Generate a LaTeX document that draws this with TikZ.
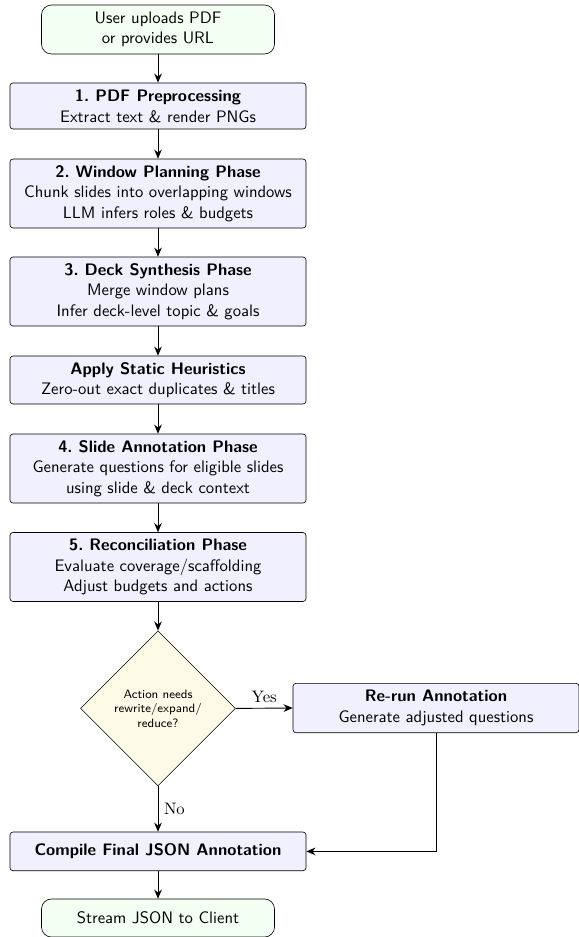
\documentclass[11pt,tikz,border=0pt]{standalone}
\usepackage{tikz}
\usetikzlibrary{
  shapes.geometric,
  arrows.meta
}

\begin{document}
\begin{tikzpicture}[x=0.658pt,y=-0.658pt,
  font=\sffamily,
  terminal/.style={draw=black,fill=green!5,rounded corners=6.5pt,align=center,
    minimum width=153.3pt,inner sep=2pt},
  phase/.style={draw=black,fill=blue!6,rounded corners=2pt,align=center,
    minimum width=194.8pt,inner sep=2pt},
  decision/.style={diamond,draw=black,fill={rgb,255:red,253;green,250;blue,232},align=center,
    font=\sffamily\scriptsize,minimum width=102pt,minimum height=102pt,inner sep=0pt},
  flow/.style={-{Stealth[length=6pt,width=5pt]},semithick},
  branch/.style={font=\rmfamily}
]
\useasboundingbox (0,0) rectangle (579,937);

\node[terminal,minimum height=32.2pt] (upload) at (158,29.5) {User uploads PDF\\or provides URL};
\node[phase,minimum height=30.3pt] (prep) at (158,106) {\textbf{1.\ PDF Preprocessing}\\Extract text \& render PNGs};
\node[phase,minimum height=45.4pt] (window) at (158,193.5) {\textbf{2.\ Window Planning Phase}\\Chunk slides into overlapping windows\\LLM infers roles \& budgets};
\node[phase,minimum height=45.4pt] (deck) at (158,291.5) {\textbf{3.\ Deck Synthesis Phase}\\Merge window plans\\Infer deck-level topic \& goals};
\node[phase,minimum height=31.6pt] (heur) at (158,380) {\textbf{Apply Static Heuristics}\\Zero-out exact duplicates \& titles};
\node[phase,minimum height=45.4pt] (annot) at (158,468.5) {\textbf{4.\ Slide Annotation Phase}\\Generate questions for eligible slides\\using slide \& deck context};
\node[phase,minimum height=45.4pt] (recon) at (158,567) {\textbf{5.\ Reconciliation Phase}\\Evaluate coverage/scaffolding\\Adjust budgets and actions};
\node[decision] (check) at (158,708.4) {Action needs\\rewrite/expand/\\reduce?};
\node[phase,minimum width=188.2pt,minimum height=32.5pt] (rerun) at (436,708) {\textbf{Re-run Annotation}\\Generate adjusted questions};
\node[phase,minimum height=25.5pt] (compile) at (158,851.4) {\textbf{Compile Final JSON Annotation}};
\node[terminal,minimum height=25pt] (stream) at (158,918) {Stream JSON to Client};

\draw[flow] (upload) -- (prep);
\draw[flow] (prep) -- (window);
\draw[flow] (window) -- (deck);
\draw[flow] (deck) -- (heur);
\draw[flow] (heur) -- (annot);
\draw[flow] (annot) -- (recon);
\draw[flow] (recon) -- (check);
\draw[flow] (check.east) -- node[branch,above] {Yes} (rerun.west);
\draw[flow] (check.south) -- node[branch,right] {No} (compile.north);
\draw[flow] (rerun.south) |- (compile.east);
\draw[flow] (compile) -- (stream);
\end{tikzpicture}
\end{document}
